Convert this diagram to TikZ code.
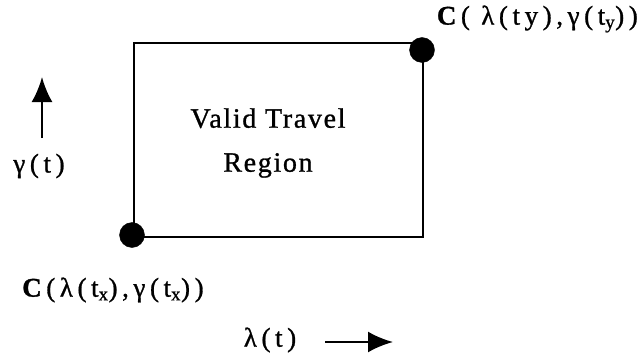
\documentclass[tikz,border=0pt]{standalone}
\usepackage{fontspec}
\setmainfont{Liberation Serif}
\newfontfamily\spacedfont[LetterSpace=6,FakeBold=1]{Liberation Serif}
\newfontfamily\labelfont[LetterSpace=17,FakeBold=1]{Liberation Serif}
\usetikzlibrary{arrows.meta}

\tikzset{
  corner/.style={shape=circle,fill=black,draw=black,minimum size=25pt,inner sep=0pt},
  plabel/.style={font=\labelfont\fontsize{27}{30}\selectfont,inner sep=0pt},
  axisarrow/.style={line width=2.4pt,-{Latex[length=25pt,width=21pt]}}
}

\begin{document}
\begin{tikzpicture}[x=1pt,y=-1pt]
\path[use as bounding box] (0,0) rectangle (642,356);

% region
\coordinate (ll) at (134,237);
\coordinate (ur) at (423,43);
\draw[line width=2.6pt] (ll) rectangle (ur);
\node[font=\spacedfont\fontsize{28}{44}\selectfont,align=center] (region) at (268,143) {Valid Travel\\Region};

\node[corner] (cx) at (132,235) {};
\node[corner] (cy) at (422,50) {};

\node[plabel,anchor=east] (Cy) at (638,19) {\textbf{C}( λ(ty),γ(t\textsubscript{y}))};
\node[plabel,anchor=west] (Cx) at (22,290) {\textbf{C}(λ(t\textsubscript{x}),γ(t\textsubscript{x}))};

% axes
\node[plabel] (gam) at (39,166) {γ(t)};
\coordinate (g0) at (42,138);
\coordinate (g1) at (42,77);
\draw[axisarrow] (g0) -- (g1);

\node[plabel] (lam) at (270,340) {λ(t)};
\coordinate (l0) at (325,342);
\coordinate (l1) at (393,342);
\draw[axisarrow] (l0) -- (l1);
\end{tikzpicture}
\end{document}
